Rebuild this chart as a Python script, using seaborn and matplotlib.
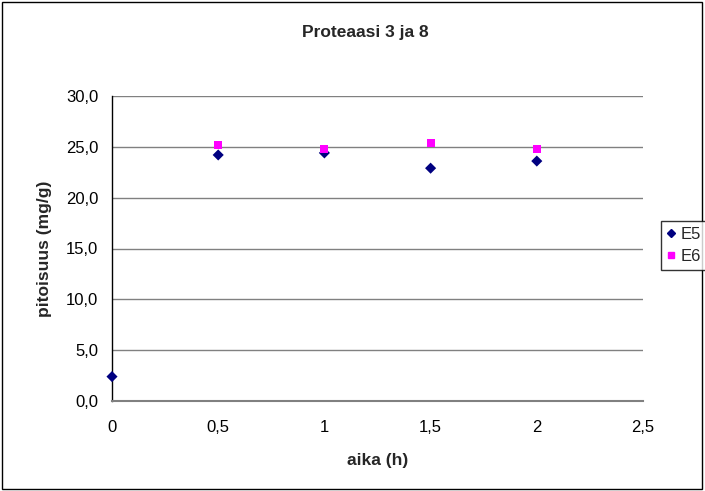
import matplotlib
matplotlib.use("Agg")
import matplotlib.pyplot as plt
import seaborn as sns
import pandas as pd
from matplotlib.patches import Rectangle
from matplotlib.lines import Line2D

x_e5 = [0, 0.5, 1, 1.5, 2]
y_e5 = [2.4, 24.2, 24.4, 22.9, 23.6]
x_e6 = [0.5, 1, 1.5, 2]
y_e6 = [25.2, 24.8, 25.4, 24.8]
xticks = [0, 0.5, 1, 1.5, 2, 2.5]
xticklabels = ["0", "0,5", "1", "1,5", "2", "2,5"]
yticks = [0, 5, 10, 15, 20, 25, 30]
yticklabels = ["0,0", "5,0", "10,0", "15,0", "20,0", "25,0", "30,0"]

df = pd.concat([
    pd.DataFrame({"aika": x_e5, "pit": y_e5, "sarja": "E5"}),
    pd.DataFrame({"aika": x_e6, "pit": y_e6, "sarja": "E6"}),
])

sns.set_style("white")
plt.rcParams["font.family"] = ["Liberation Sans", "DejaVu Sans"]

fig = plt.figure(figsize=(7.05, 4.91), dpi=100)
ax = fig.add_axes([112/705, 1-401/491, (643-112)/705, (401-96)/491])

sns.scatterplot(data=df, x="aika", y="pit", hue="sarja", style="sarja",
                palette={"E5": "#000080", "E6": "#FF00FF"},
                markers={"E5": "D", "E6": "s"},
                s=32, edgecolor="none", ax=ax, legend=False, zorder=3,
                clip_on=False)

ax.set_xlim(0, 2.5)
ax.set_ylim(0, 30)
ax.set_xticks(xticks)
ax.set_xticklabels(xticklabels, fontsize=12)
ax.set_yticks(yticks)
ax.set_yticklabels(yticklabels, fontsize=12)
ax.yaxis.grid(True, color="#808080", linewidth=1)
ax.set_axisbelow(True)
for s in ["top", "right"]:
    ax.spines[s].set_visible(False)
ax.spines["left"].set_color("black")
ax.spines["bottom"].set_color("#808080")
ax.spines["left"].set_linewidth(1)
ax.spines["bottom"].set_linewidth(1.5)
ax.tick_params(axis="x", direction="out", length=4, width=1, colors="black",
               labelcolor="black", pad=10)
ax.tick_params(axis="y", direction="out", length=4, width=1, colors="black",
               labelcolor="black", pad=6)
ax.set_xlabel("aika (h)", fontsize=12.5, fontweight="bold")
ax.set_ylabel("pitoisuus (mg/g)", fontsize=12.5, fontweight="bold")
ax.xaxis.set_label_coords(0.5, (401-461)/305)
ax.xaxis.label.set_va("center")
ax.yaxis.set_label_coords((45-112)/531, 0.5)
ax.yaxis.label.set_va("center")

fig.text(365/705, 1-33/491, "Proteaasi 3 ja 8", ha="center", va="center",
         fontsize=12.5, fontweight="bold")

# outer border
fig.patches.append(Rectangle((2/705, 2/491), 700/705, 487/491, transform=fig.transFigure,
                             fill=False, edgecolor="black", linewidth=1))

# legend
handles = [Line2D([], [], marker="D", color="#000080", linestyle="none", markersize=4.5),
           Line2D([], [], marker="s", color="#FF00FF", linestyle="none", markersize=4.5)]
leg = fig.legend(handles, ["E5", "E6"], loc="upper left",
                 bbox_to_anchor=(661/705, 1-221/491), frameon=True, fontsize=12,
                 handlelength=0.5, handletextpad=0.3, borderpad=0.35, labelspacing=0.45,
                 fancybox=False, borderaxespad=0)
leg.get_frame().set_edgecolor("black")
leg.get_frame().set_linewidth(1)

fig.savefig("out.png", dpi=100)
